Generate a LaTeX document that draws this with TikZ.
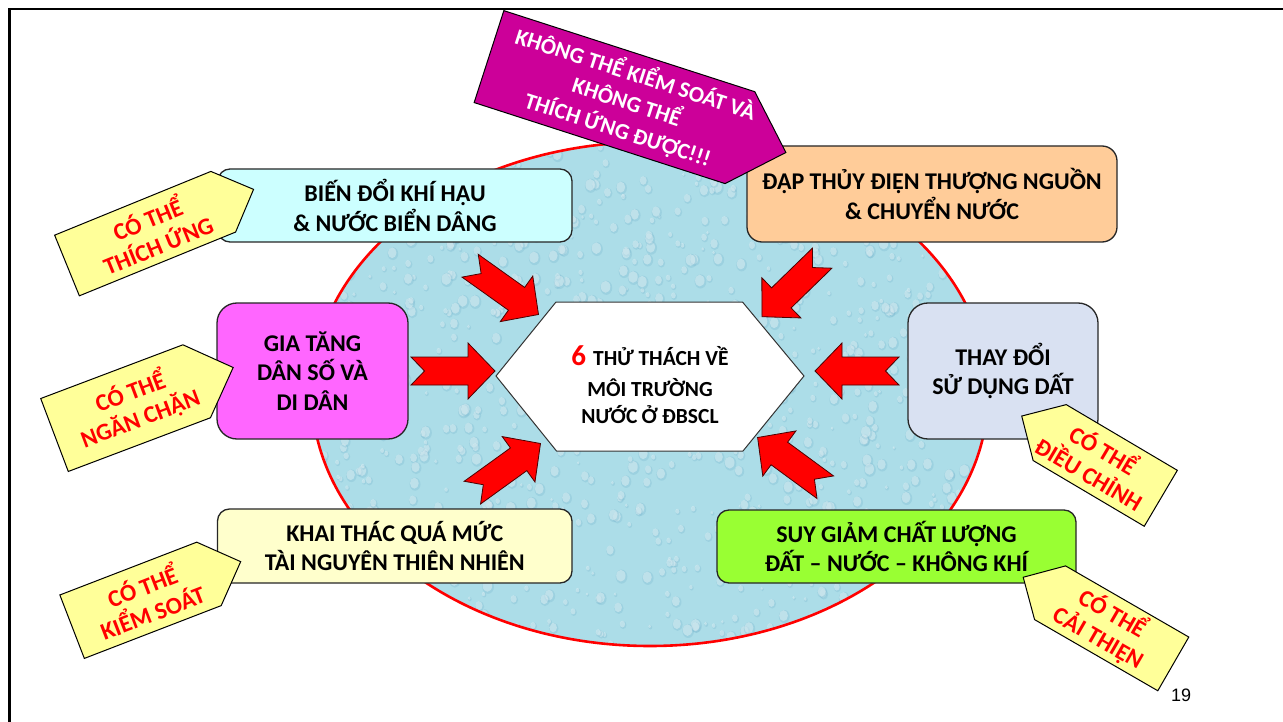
\documentclass[tikz,border=0pt]{standalone}
\usepackage{fontspec}
\setmainfont{Carlito}
\newfontfamily\arialfont{Liberation Sans}
\usetikzlibrary{calc}

\definecolor{ellfill}{RGB}{172,221,232}
\definecolor{dropdark}{RGB}{120,182,206}
\definecolor{cyanbox}{RGB}{204,255,255}
\definecolor{peachbox}{RGB}{255,204,153}
\definecolor{pinkbox}{RGB}{255,102,255}
\definecolor{lavbox}{RGB}{217,225,242}
\definecolor{creambox}{RGB}{255,255,204}
\definecolor{limebox}{RGB}{153,255,51}
\definecolor{tagyellow}{RGB}{255,255,153}
\definecolor{magtag}{RGB}{204,0,153}

\tikzset{
  box/.style={draw=black!85, line width=1.3pt, rounded corners=12pt, align=center,
    font=\bfseries\fontsize{24}{29.5}\selectfont, inner sep=0pt},
  tallbox/.style={box, rounded corners=20pt},
  tagst/.style={draw=black, line width=1pt, fill=tagyellow},
  magst/.style={draw=black, line width=1pt, fill=magtag},
  tagtext/.style={text=red, font=\bfseries\fontsize{24}{28}\selectfont, align=center, inner sep=0pt},
  magtext/.style={text=white, font=\bfseries\fontsize{22.5}{29}\selectfont, align=center, inner sep=0pt},
  hextext/.style={font=\bfseries\fontsize{21.5}{21.5}\selectfont, inner sep=0pt, anchor=base},
  arrowst/.style={draw=black!70!red, line width=0.8pt, fill=red},
  redarrow/.pic={\path[arrowst] (0,0) -- (-27,28) -- (-27,14) -- (-84,14) -- (-70.5,0)
      -- (-84,-14) -- (-27,-14) -- (-27,-28) -- cycle;},
}

% name, back centre, shape angle, length, width, text angle, text offset, shape style, text style
\newcommand{\tagpiece}[9]{%
  \begin{scope}[shift={(#2)}, rotate=#3]
    \path[#8] (0,-#5/2) -- ({#4-#5/2},-#5/2) -- (#4,0) -- ({#4-#5/2},#5/2) -- (0,#5/2) -- cycle;
    \node[#9, rotate=#6] (#1) at (#7,0) {\tagcontent};
  \end{scope}}

\begin{document}
\begin{tikzpicture}[x=1pt, y=-1pt]
\useasboundingbox (0,0) rectangle (1283,722);
\fill[white] (0,0) rectangle (1283,722);

% water ellipse
\fill[ellfill] (650,394) ellipse [x radius=338, y radius=252];
\begin{scope}
  \clip (650,394) ellipse [x radius=338, y radius=252];
  \pgfmathsetseed{12}
  \foreach \k in {1,...,1100}{
    \pgfmathsetmacro{\dx}{312+rnd*676}
    \pgfmathsetmacro{\dy}{142+rnd*504}
    \pgfmathsetmacro{\dr}{1.5+rnd*4.5}
    \fill[dropdark, opacity=0.3] (\dx+0.7,\dy+0.9) ellipse [x radius=\dr, y radius=\dr*1.2];
    \fill[white, opacity=0.35] (\dx,\dy) ellipse [x radius=\dr*0.8, y radius=\dr];
  }
\end{scope}
\draw[red, line width=2.6pt] (650,394) ellipse [x radius=338, y radius=252];

% block arrows pointing to the centre
\coordinate (tipL) at (495,371);
\coordinate (tipR) at (815,371);
\coordinate (tipTL) at (538.5,314.5);
\coordinate (tipTR) at (762,316.7);
\coordinate (tipBL) at (540.5,443.5);
\coordinate (tipBR) at (757.6,437.5);
\pic[rotate=0] at (tipL) {redarrow};
\pic[rotate=180] at (tipR) {redarrow};
\pic[rotate=-35.5] at (tipTL) {redarrow};
\pic[rotate=224.2] at (tipTR) {redarrow};
\pic[rotate=35.8] at (tipBL) {redarrow};
\pic[rotate=143.7] at (tipBR) {redarrow};

% central hexagon
\coordinate (hexc) at (650,376);
\draw[fill=white, draw=black!80, line width=1pt] (496,376) -- (556,302) -- (742.5,302) -- (804,376)
  -- (743,451) -- (556.5,451) -- cycle;
\node[hextext] (hexA) at (650,365.2) {{\color{red}\fontsize{29}{29}\selectfont 6}\hspace{7pt}THỬ THÁCH VỀ};
\node[hextext] (hexB) at (650,396.5) {MÔI TRƯỜNG};
\node[hextext] (hexC) at (650,423) {NƯỚC Ở ĐBSCL};

% challenge boxes
\node[box, fill=cyanbox, minimum width=354pt, minimum height=73pt] (climate) at (395,205.5)
  {BIẾN ĐỔI KHÍ HẬU\\\& NƯỚC BIỂN DÂNG};
\node[box, fill=peachbox, rounded corners=15pt, minimum width=370pt, minimum height=96pt] (dam) at (932,194)
  {ĐẬP THỦY ĐIỆN THƯỢNG NGUỒN\\\& CHUYỂN NƯỚC};
\node[tallbox, fill=pinkbox, minimum width=191pt, minimum height=136pt] (pop) at (312.5,371)
  {GIA TĂNG\\DÂN SỐ VÀ\\DI DÂN};
\node[tallbox, fill=lavbox, minimum width=190pt, minimum height=136pt] (land) at (1003,371)
  {THAY ĐỔI\\SỬ DỤNG DẤT};
\node[box, fill=creambox, minimum width=354.5pt, minimum height=74pt] (exploit) at (394.75,546)
  {KHAI THÁC QUÁ MỨC\\TÀI NGUYÊN THIÊN NHIÊN};
\node[box, fill=limebox, minimum width=359pt, minimum height=73pt] (quality) at (896.5,546.5)
  {SUY GIẢM CHẤT LƯỢNG\\ĐẤT – NƯỚC – KHÔNG KHÍ};

% tags
\def\tagcontent{CÓ THỂ\\THÍCH ỨNG}
\tagpiece{tagA}{67,265.5}{22.2}{201.5}{65.5}{22.2}{92}{tagst}{tagtext}
\def\tagcontent{CÓ THỂ\\NGĂN CHẶN}
\tagpiece{tagB}{54.5,435}{20.7}{191}{78}{20.7}{86}{tagst}{tagtext}
\def\tagcontent{CÓ THỂ\\KIỂM SOÁT}
\tagpiece{tagC}{72.1,626.7}{21.1}{180.7}{68}{21.1}{80}{tagst}{tagtext}
\def\tagcontent{CÓ THỂ\\ĐIỀU CHỈNH}
\tagpiece{tagD}{1160.8,498.3}{149.4}{161.6}{65}{-30.6}{74}{tagst}{tagtext}
\def\tagcontent{CÓ THỂ\\CẢI THIỆN}
\tagpiece{tagE}{1173.3,663.9}{150}{173.3}{62}{-30}{78}{tagst}{tagtext}
\def\tagcontent{KHÔNG THỂ KIỂM SOÁT VÀ\\KHÔNG THỂ\\THÍCH ỨNG ĐƯỢC!!!}
\tagpiece{tagM}{489,56.6}{-17.9}{312}{96.6}{-17.9}{145}{magst}{magtext}

% page number and frame
\node[font=\arialfont\fontsize{18}{18}\selectfont, inner sep=0pt] (pnum) at (1181,695) {19};
\draw[black, line width=2.6pt] (9.3,722) -- (9.3,9.2) -- (1283,9.2);
\end{tikzpicture}
\end{document}
